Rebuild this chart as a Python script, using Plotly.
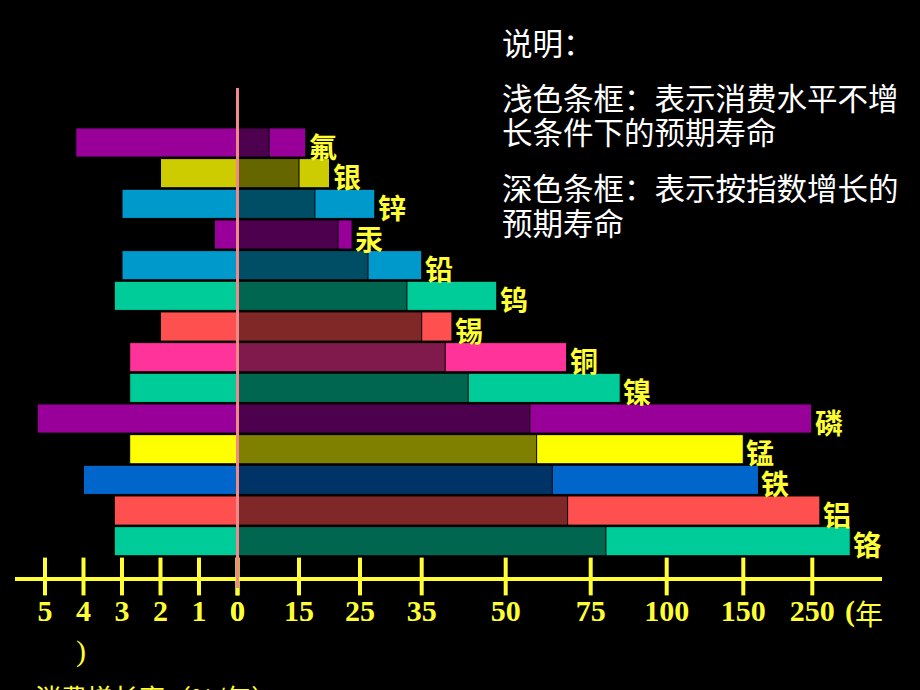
import numpy as np
import plotly.graph_objects as go

# ---------------- data ----------------
ELEMENTS = ["氟", "银", "锌", "汞", "铅", "钨", "锡", "铜", "镍", "磷", "锰", "铁", "铝", "铬"]
GROWTH = [4.2, 2.0, 3.0, 0.6, 3.0, 3.2, 2.0, 2.8, 2.8, 5.2, 2.8, 4.0, 3.2, 3.2]          # %/年
LIFE_STATIC = [16.1, 20, 27.4, 23.7, 35, 48.4, 40.4, 67.9, 84.7, 249, 150, 172, 261, 305]  # 年 (浅色)
LIFE_EXP = [7.7, 15, 17.6, 21.4, 26.3, 32.6, 35, 39.2, 43.3, 57.1, 59.1, 63.7, 68.2, 80]   # 年 (深色)

GROWTH_TICKS = [5, 4, 3, 2, 1, 0]
YEAR_TICKS = [0, 15, 25, 35, 50, 75, 100, 150, 250]

# ---------------- styles ----------------
COLOR_LIGHT = ["#990099", "#CCCC00", "#0099CC", "#990099", "#0099CC", "#00CC99", "#FF5050",
               "#FF3399", "#00CC99", "#990099", "#FFFF00", "#0066CC", "#FF5050", "#00CC99"]
COLOR_DARK = ["#4D004D", "#666600", "#004D66", "#4D004D", "#004D66", "#006650", "#802828",
              "#801A4D", "#006650", "#4D004D", "#808000", "#003366", "#802828", "#006650"]
YELLOW = "#FFFF33"

# The hand-drawn year axis is non-linear: breakpoints of its scale (axis units)
SCALE_UNITS = [0, 61.5, 122.5, 184.2, 268.2, 353.2, 429.2, 505.8, 574.8]


def year_scale(v):
    v = np.asarray(v, dtype=float)
    out = np.interp(v, YEAR_TICKS, SCALE_UNITS)
    slope = (SCALE_UNITS[-1] - SCALE_UNITS[-2]) / (YEAR_TICKS[-1] - YEAR_TICKS[-2])
    over = v > YEAR_TICKS[-1]
    out[over] = SCALE_UNITS[-1] + (v[over] - YEAR_TICKS[-1]) * slope
    return out


W, H = 920, 690
rows = list(range(len(ELEMENTS)))
ROW0_PX, PITCH = 142.5, 30.67
y_top = -ROW0_PX / PITCH
y_bot = (H - ROW0_PX) / PITCH
AXIS_PX = 578.5
axis_row = (AXIS_PX - 2 - ROW0_PX) / PITCH

fig = go.Figure()

# left: growth rate bars
fig.add_trace(go.Bar(y=rows, x=GROWTH, orientation="h", xaxis="x", yaxis="y",
                     marker=dict(color=COLOR_LIGHT, line=dict(color="black", width=1)),
                     width=0.95, showlegend=False, hoverinfo="skip"))
# right: static lifetime (light) then exponential lifetime (dark)
fig.add_trace(go.Bar(y=rows, x=year_scale(LIFE_STATIC), orientation="h", xaxis="x2", yaxis="y",
                     marker=dict(color=COLOR_LIGHT, line=dict(color="black", width=1)),
                     width=0.95, showlegend=False, hoverinfo="skip"))
fig.add_trace(go.Bar(y=rows, x=year_scale(LIFE_EXP), orientation="h", xaxis="x2", yaxis="y",
                     marker=dict(color=COLOR_DARK, line=dict(color="black", width=1)),
                     width=0.95, showlegend=False, hoverinfo="skip"))

# crossing tick marks
fig.add_trace(go.Scatter(x=GROWTH_TICKS, y=[axis_row] * len(GROWTH_TICKS), xaxis="x", yaxis="y",
                         mode="markers", marker=dict(symbol="line-ns", size=27,
                                                     line=dict(color=YELLOW, width=4)),
                         showlegend=False, hoverinfo="skip", cliponaxis=False))
fig.add_trace(go.Scatter(x=year_scale(YEAR_TICKS), y=[axis_row] * len(YEAR_TICKS), xaxis="x2", yaxis="y",
                         mode="markers", marker=dict(symbol="line-ns", size=27,
                                                     line=dict(color=YELLOW, width=4)),
                         showlegend=False, hoverinfo="skip", cliponaxis=False))

x_left = 15 / W
x_mid = 237.5 / W
x_right = 881.7 / W
axis_pos = 1 - AXIS_PX / H
tickfont = dict(family="Liberation Serif", size=30, color=YELLOW, weight="bold")

fig.update_layout(
    width=W, height=H, margin=dict(l=0, r=0, t=0, b=0, autoexpand=False),
    paper_bgcolor="black", plot_bgcolor="black", barmode="overlay",
    xaxis=dict(domain=[x_left, x_mid], range=[(237.5 - 15) / 38.5, 0], anchor="free",
               position=axis_pos, showline=True, linecolor=YELLOW, linewidth=4,
               showgrid=False, zeroline=False, tickmode="array", tickvals=GROWTH_TICKS,
               ticktext=[str(t) for t in GROWTH_TICKS], ticks="", tickfont=tickfont,
               ticklabelstandoff=4, automargin=False),
    xaxis2=dict(domain=[x_mid, x_right], range=[0, 881.7 - 237.5], anchor="free",
                position=axis_pos, showline=True, linecolor=YELLOW, linewidth=4,
                showgrid=False, zeroline=False, tickmode="array",
                tickvals=year_scale(YEAR_TICKS), ticktext=[str(t) for t in YEAR_TICKS],
                ticks="", tickfont=tickfont, ticklabelstandoff=4, automargin=False),
    yaxis=dict(range=[y_bot, y_top], visible=False, domain=[0, 1], automargin=False),
    font=dict(family="Noto Sans CJK SC"),
)

# pink zero line
fig.add_shape(type="line", xref="paper", yref="paper", x0=x_mid, x1=x_mid,
              y0=1 - 88 / H, y1=1 - 588 / H, line=dict(color="#F08A8A", width=3))

# element labels
for i, (name, v) in enumerate(zip(ELEMENTS, year_scale(LIFE_STATIC))):
    fig.add_annotation(x=v, y=i, xref="x2", yref="y", text="<b>" + name + "</b>",
                       showarrow=False, xanchor="left", yanchor="middle", xshift=1, yshift=-3,
                       font=dict(family="Noto Sans CJK SC", size=28, color=YELLOW))

# axis unit texts
fig.add_annotation(x=843 / W, y=1 - 611 / H, xref="paper", yref="paper", text="<b>(</b>",
                   showarrow=False, xanchor="left", yanchor="middle",
                   font=dict(family="Liberation Serif", size=30, color=YELLOW))
fig.add_annotation(x=853 / W, y=1 - 613 / H, xref="paper", yref="paper", text="年",
                   showarrow=False, xanchor="left", yanchor="middle",
                   font=dict(family="Noto Sans CJK SC", size=28, color=YELLOW))
fig.add_annotation(x=81 / W, y=1 - 651 / H, xref="paper", yref="paper", text=")",
                   showarrow=False, xanchor="center", yanchor="middle",
                   font=dict(family="Liberation Serif", size=30, color=YELLOW))
fig.add_annotation(x=33 / W, y=1 - 696 / H, xref="paper", yref="paper", text="消费增长率（%/年）",
                   showarrow=False, xanchor="left", yanchor="middle",
                   font=dict(family="Noto Sans CJK SC", size=26, color=YELLOW))

# explanation text
LEGEND_LINES = [("说明：", 42), ("浅色条框：表示消费水平不增", 97), ("长条件下的预期寿命", 131),
                ("深色条框：表示按指数增长的", 187), ("预期寿命", 222)]
for txt, yc in LEGEND_LINES:
    fig.add_annotation(x=500 / W, y=1 - yc / H, xref="paper", yref="paper", text=txt,
                       showarrow=False, xanchor="left", yanchor="middle",
                       font=dict(family="Noto Sans CJK SC", size=30.5, color="white"))

fig.write_html("out.html")
